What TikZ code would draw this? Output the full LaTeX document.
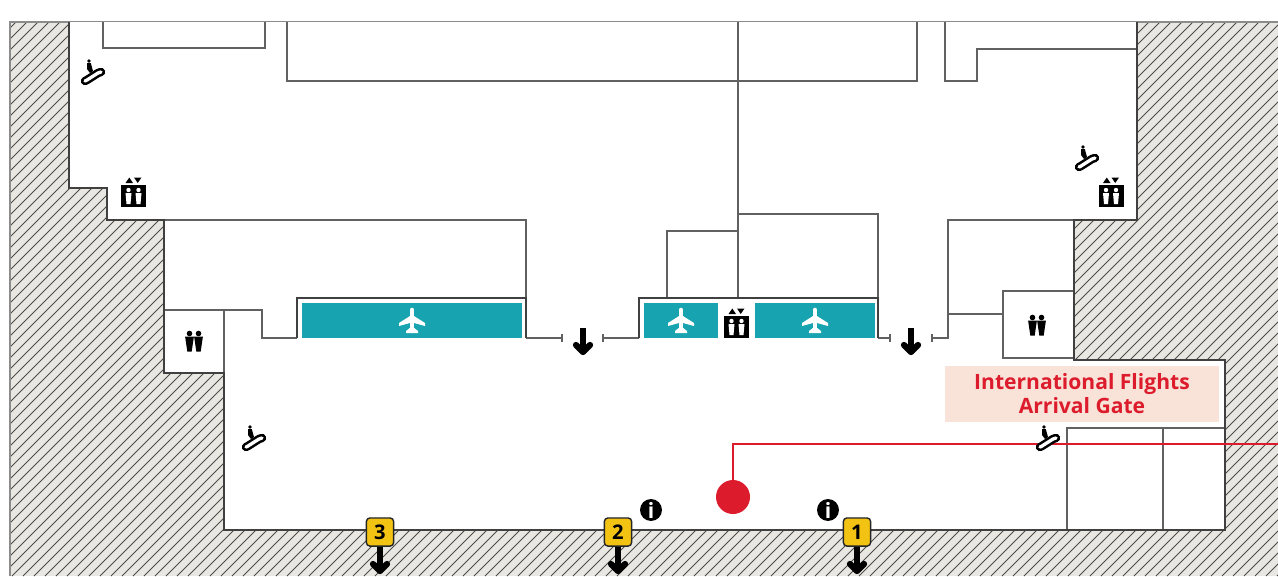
\documentclass[tikz,border=0pt]{standalone}
\usepackage{fontspec}
\setmainfont{Open Sans}
\definecolor{hatchbg}{HTML}{E9E7E1}
\definecolor{gateteal}{HTML}{17A3B0}
\definecolor{gatered}{HTML}{DC1C2C}
\definecolor{gatepeach}{HTML}{F9E2D7}
\definecolor{exityellow}{HTML}{F2C313}
\tikzset{
	wall/.style={draw=black!75,line width=.75pt,line join=miter},
	room/.style={draw=black!62,line width=.62pt,line join=miter},
	gatebar/.style={fill=gateteal,draw=none},
	exitbadge/.style={draw=black!85,fill=exityellow,rounded corners=2pt,line width=.8pt,minimum width=15.5pt,minimum height=16pt,inner sep=0pt,font=\bfseries\fontsize{11.5}{12}\selectfont},
	infosign/.style={circle,fill=black,text=white,minimum size=12.5pt,inner sep=0pt,font=\bfseries\fontsize{12}{12}\selectfont},
	pics/liftsign/.style={code={
		\fill[black] (-12.5,-11) rectangle (12.5,11);
		\fill[black] (-8,-13) -- (-0.5,-13) -- (-4.2,-18.5) -- cycle;
		\fill[black] (0.5,-18.5) -- (8,-18.5) -- (4.2,-13) -- cycle;
		\foreach \s in {-5,5}{
			\fill[white] (\s,-6) circle (2.2);
			\fill[white] (\s-3,-3) -- (\s+3,-3) -- (\s+2,8) -- (\s-2,8) -- cycle;
		}
	}},
	pics/stairsign/.style={code={
		\draw[black,line width=4.8pt,line cap=round,line join=round] (-8,9) -- (-6,8) -- (5,1) -- (8,0);
		\draw[white,line width=1.9pt,line cap=round,line join=round] (-8,9) -- (-6,8) -- (5,1) -- (8,0);
		\fill[black] (-4,-11) circle (1.9);
		\fill[black] (-6,-9) -- (-2.2,-9) -- (0,-1) -- (-3,1) -- (-6,-3) -- cycle;
	}},
	pics/wcsign/.style={code={
		\foreach \s in {-4.5,4.5}{
			\fill[black] (\s,-7.5) circle (2.8);
			\fill[black] (\s-4.4,-4.5) -- (\s+4.4,-4.5) -- (\s+2.2,10.5) -- (\s-2.2,10.5) -- cycle;
		}
	}},
	pics/planesign/.style={code={
		\draw[white,line width=2.6pt,line cap=round] (0,-10) -- (0,9);
		\fill[white] (-13,6) -- (-13,3) -- (-2,-4) -- (2,-4) -- (13,3) -- (13,6) -- (2,3) -- (-2,3) -- cycle;
		\fill[white] (-6,13) -- (-6,11) -- (-1,7) -- (1,7) -- (6,11) -- (6,13) -- cycle;
	}},
	pics/downsign/.style={code={
		\draw[black,line width=3.4pt] (0,-13) -- (0,9);
		\draw[black,line width=3.6pt,line cap=round,line join=round] (-7,4) -- (0,11) -- (7,4);
	}}
}
\begin{document}
\begin{tikzpicture}[x=0.02cm,y=-0.02cm]
	\useasboundingbox (0,0) rectangle (1278,576);
	\fill[white] (0,0) rectangle (1278,576);
	% hatched ground
	\fill[hatchbg] (10,22) rectangle (1278,576);
	\begin{scope}
		\clip (10,22) rectangle (1278,576);
		\foreach \x in {-560,-549,...,1278}
			\draw[black!70,line width=.45pt] (\x,576) -- (\x+554,22);
	\end{scope}
	\draw[black!45,line width=.6pt] (10,576) -- (10,22) -- (1278,22);
	% floor
	\fill[white] (69,22) -- (69,188) -- (107,188) -- (107,220) -- (164,220) -- (164,373) -- (224,373) -- (224,530) -- (1225,530) -- (1225,360) -- (1074,360) -- (1074,220) -- (1137,220) -- (1137,22) -- cycle;
	% upper rooms
	\draw[room] (103,22) -- (103,48) -- (265,48) -- (265,22);
	\draw[room] (287,22) -- (287,81) -- (917,81) -- (917,22);
	\draw[room] (738,22) -- (738,298);
	\draw[room] (945,22) -- (945,81) -- (977,81) -- (977,49) -- (1137,49);
	\draw[room] (164,220) -- (526,220) -- (526,298);
	\draw[room] (667,298) -- (667,231) -- (738,231);
	\draw[room] (738,214) -- (878,214) -- (878,298);
	% gate line
	\draw[room] (164,310) -- (262,310) -- (262,338) -- (297,338);
	\draw[room] (224,310) -- (224,373);
	\draw[room] (526,338) -- (562,338);
	\draw[room] (562,334) -- (562,342);
	\draw[room] (603,334) -- (603,342);
	\draw[room] (603,338) -- (639,338);
	\draw[room] (878,338) -- (890,338);
	\draw[room] (890,334) -- (890,342);
	\draw[room] (932,334) -- (932,342);
	\draw[room] (932,338) -- (948,338) -- (948,220) -- (1074,220);
	\draw[room] (948,314) -- (1003,314);
	\draw[room] (1074,291) -- (1003,291) -- (1003,358) -- (1074,358);
	\draw[wall] (297,338) -- (297,298) -- (526,298) -- (526,338);
	\draw[wall] (639,338) -- (639,298) -- (878,298) -- (878,338);
	% lower right rooms
	\draw[room] (1067,530) -- (1067,428) -- (1225,428);
	\draw[room] (1163,428) -- (1163,530);
	% outline
	\draw[wall] (69,22) -- (69,188) -- (107,188) -- (107,220) -- (164,220) -- (164,373) -- (224,373) -- (224,530) -- (1225,530) -- (1225,360) -- (1074,360) -- (1074,220) -- (1137,220) -- (1137,22);
	% gates
	\fill[gatebar] (302,303) rectangle (522,338);
	\fill[gatebar] (644,303) rectangle (718,338);
	\fill[gatebar] (755,303) rectangle (875,338);
	\pic (plane1) at (412,320) {planesign};
	\pic (plane2) at (681,320) {planesign};
	\pic (plane3) at (815,320) {planesign};
	% signs
	\pic (lift1) at (133.5,196) {liftsign};
	\pic (lift2) at (1111,196) {liftsign};
	\pic (lift3) at (736.5,327) {liftsign};
	\pic (wc1) at (194,341) {wcsign};
	\pic (wc2) at (1037,325) {wcsign};
	\pic (way1) at (583,341) {downsign};
	\pic (way2) at (911,341) {downsign};
	% label
	\node (gatelabel) [fill=gatepeach,minimum width=274*0.02cm,minimum height=56*0.02cm,inner sep=0pt,text=gatered,align=center,font=\bfseries\fontsize{12}{13.6}\selectfont] at (1082,393.5) {International Flights\\Arrival Gate};
	% route
	\coordinate (routeend) at (1278,444);
	\node (spot) [circle,fill=gatered,minimum size=34*0.02cm,inner sep=0pt] at (733,497) {};
	\draw[gatered,line width=1pt] (spot.center) |- (routeend);
	\pic (stair1) at (93,72) {stairsign};
	\pic (stair2) at (1087,158) {stairsign};
	\pic (stair3) at (254,438) {stairsign};
	\pic (stair4) at (1048,438) {stairsign};
	% exits
	\pic (out3) at (380,560) {downsign};
	\pic (out2) at (618,560) {downsign};
	\pic (out1) at (857,560) {downsign};
	\node (exit3) [exitbadge] at (380,532) {3};
	\node (exit2) [exitbadge] at (618,532) {2};
	\node (exit1) [exitbadge] at (857,532) {1};
	\node (info1) [infosign] at (651,510) {i};
	\node (info2) [infosign] at (828,510) {i};
\end{tikzpicture}
\end{document}
